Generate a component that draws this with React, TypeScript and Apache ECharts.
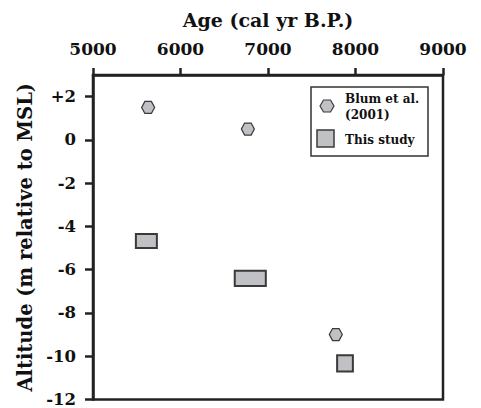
import React, { useEffect, useRef } from "react";
import * as echarts from "echarts";

const blumAge = [5630, 6770, 7775];
const blumAlt = [1.5, 0.5, -9.0];

const studyAgeMin = [5490, 6620, 7790];
const studyAgeMax = [5730, 6975, 7970];
const studyAltMin = [-5.0, -6.75, -10.7];
const studyAltMax = [-4.35, -6.05, -9.95];

const xTicks = [5000, 6000, 7000, 8000, 9000];
const yTicks = [-12, -10, -8, -6, -4, -2, 0, 2];

const FONT = "DejaVu Serif";
const FILL = "#c0c1c5";
const EDGE = "#3a3a3a";
const HEX = "path://M0,5 L3,0 L9,0 L12,5 L9,10 L3,10 Z";

export default function App() {
  const ref = useRef<HTMLDivElement>(null);
  useEffect(() => {
    const chart = echarts.init(ref.current!, null, { renderer: "svg" });
    const rects = studyAgeMin.map((v, i) => [v, studyAgeMax[i], studyAltMin[i], studyAltMax[i]]);
    chart.setOption({
      animation: false,
      backgroundColor: "#fff",
      grid: { left: 93, right: 38, top: 75, bottom: 5, show: true, borderColor: "#222", borderWidth: 2.5, backgroundColor: "transparent" },
      xAxis: {
        type: "value",
        position: "top",
        min: 5000,
        max: 9000,
        interval: 1000,
        name: "Age (cal yr B.P.)",
        nameLocation: "middle",
        nameGap: 46,
        nameTextStyle: { fontFamily: FONT, fontWeight: "bold", fontSize: 19, color: "#111" },
        axisLine: { show: true, onZero: false, lineStyle: { color: "#222", width: 2.5 } },
        axisTick: { show: true, inside: false, length: 7, lineStyle: { color: "#222", width: 2.5 }, customValues: xTicks },
        axisLabel: { fontFamily: FONT, fontWeight: "bold", fontSize: 17, color: "#111", margin: 18, customValues: xTicks, formatter: (v: number) => String(v) },
        splitLine: { show: false },
      },
      yAxis: {
        type: "value",
        min: -12,
        max: 3,
        interval: 2,
        name: "Altitude (m relative to MSL)",
        nameLocation: "middle",
        nameGap: 55,
        nameRotate: 90,
        nameTextStyle: { fontFamily: FONT, fontWeight: "bold", fontSize: 19.5, color: "#111" },
        axisLine: { show: true, onZero: false, lineStyle: { color: "#222", width: 2.5 } },
        axisTick: { show: true, inside: false, length: 8, lineStyle: { color: "#222", width: 2.5 }, customValues: yTicks },
        axisLabel: {
          fontFamily: FONT, fontWeight: "bold", fontSize: 16.5, color: "#111", margin: 17,
          customValues: yTicks,
          formatter: (v: number) => (v > 0 ? "+" + v : String(v)),
        },
        splitLine: { show: false },
      },
      series: [
        {
          type: "custom",
          name: "This study",
          data: rects,
          renderItem: (params: any, api: any) => {
            const p1 = api.coord([api.value(0), api.value(3)]);
            const p2 = api.coord([api.value(1), api.value(2)]);
            return {
              type: "rect",
              shape: { x: p1[0], y: p1[1], width: p2[0] - p1[0], height: p2[1] - p1[1] },
              style: { fill: FILL, stroke: EDGE, lineWidth: 2 },
            };
          },
        },
        {
          type: "scatter",
          name: "Blum et al. (2001)",
          data: blumAge.map((a, i) => [a, blumAlt[i]]),
          symbol: HEX,
          symbolSize: [13, 12],
          itemStyle: { color: FILL, borderColor: EDGE, borderWidth: 1.2, opacity: 1 },
        },
      ],
      graphic: [
        { type: "rect", shape: { x: 311, y: 87, width: 117, height: 69 }, style: { fill: "#fff", stroke: "#333", lineWidth: 1.5 } },
        { type: "polygon", shape: { points: [[320, 106], [323.5, 100], [330.5, 100], [334, 106], [330.5, 112], [323.5, 112]] }, style: { fill: FILL, stroke: EDGE, lineWidth: 1.2 } },
        { type: "text", x: 345, y: 91, style: { text: "Blum et al.\n(2001)", fontFamily: FONT, fontWeight: "bold", fontSize: 12, lineHeight: 16, fill: "#111" } },
        { type: "rect", shape: { x: 317, y: 130, width: 17, height: 17 }, style: { fill: FILL, stroke: EDGE, lineWidth: 1.5 } },
        { type: "text", x: 345, y: 134, style: { text: "This study", fontFamily: FONT, fontWeight: "bold", fontSize: 12, fill: "#111" } },
      ],
    });
    return () => chart.dispose();
  }, []);
  return <div ref={ref} style={{ width: 481, height: 408, position: "absolute", left: 0, top: 0 }} />;
}
